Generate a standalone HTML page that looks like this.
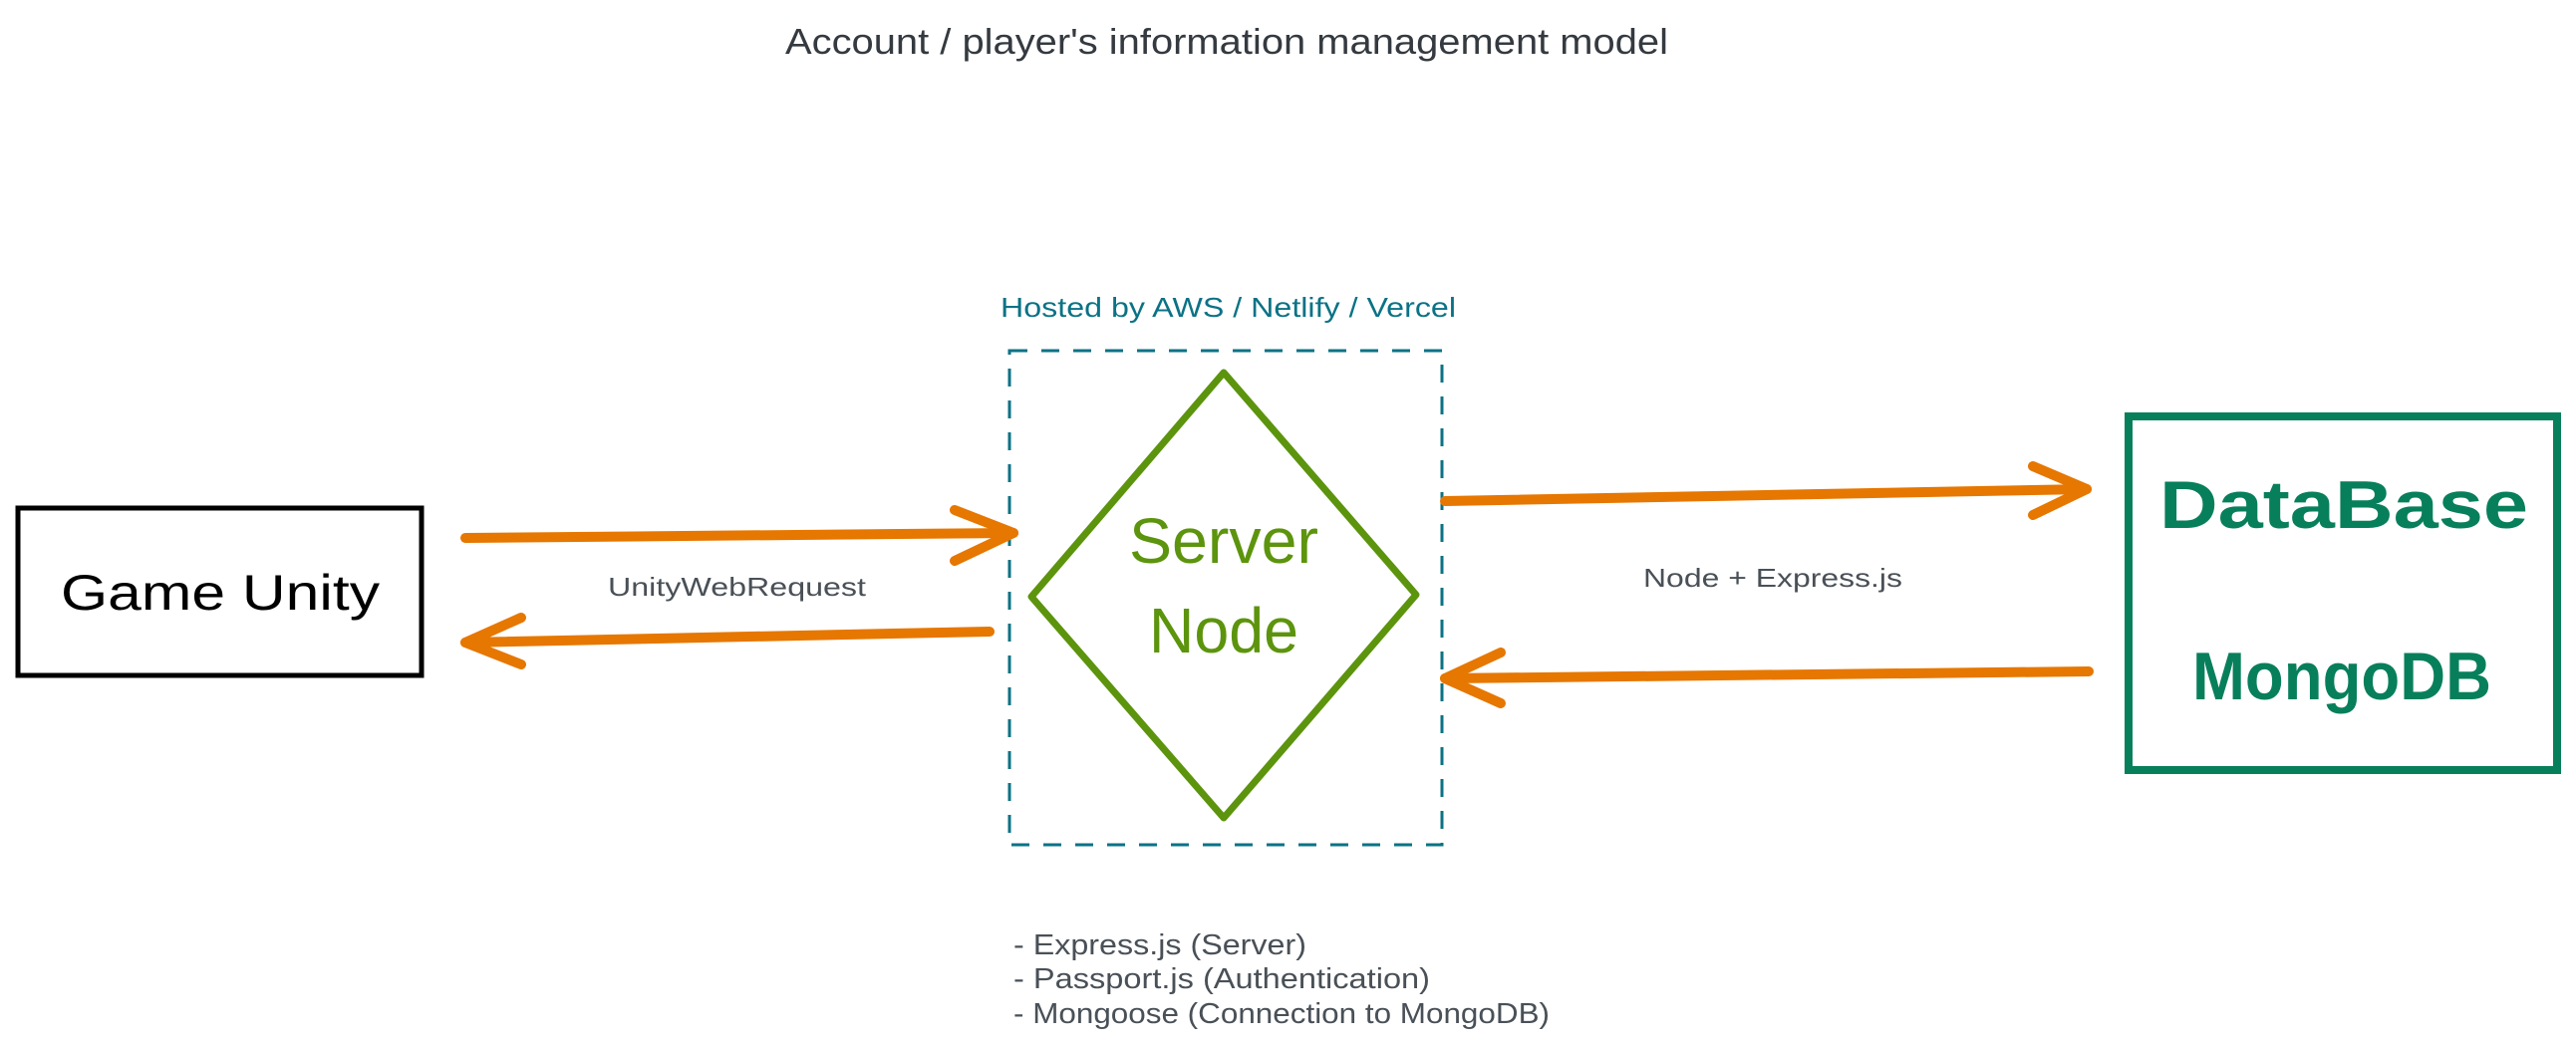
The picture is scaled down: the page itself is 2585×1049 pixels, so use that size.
<!DOCTYPE html>
<html><head><meta charset="utf-8"><style>
html,body{margin:0;padding:0;background:#fff;}
svg{display:block;}
text{font-family:"Liberation Sans",sans-serif;}
</style></head><body>
<svg width="2585" height="1049" viewBox="0 0 2585 1049" xmlns="http://www.w3.org/2000/svg">
<rect width="2585" height="1049" fill="#fff"/>
<text x="788" y="54" font-size="36" fill="#343a40" textLength="886" lengthAdjust="spacingAndGlyphs">Account / player's information management model</text>

<!-- Game Unity box -->
<rect x="18" y="510" width="405" height="168" fill="none" stroke="#000" stroke-width="5"/>
<text x="221" y="612" font-size="50" text-anchor="middle" fill="#000" textLength="320" lengthAdjust="spacingAndGlyphs">Game Unity</text>

<!-- dashed hosting box -->
<text x="1004" y="318" font-size="28" fill="#0b7285" textLength="457" lengthAdjust="spacingAndGlyphs">Hosted by AWS / Netlify / Vercel</text>
<rect x="1013" y="352" width="434" height="496" fill="none" stroke="#0b7285" stroke-width="3" stroke-dasharray="18,14"/>

<!-- diamond -->
<polygon points="1228,374 1421,597 1228,821 1035,599" fill="none" stroke="#5c940d" stroke-width="7" stroke-linejoin="round"/>
<text x="1228" y="565" font-size="64" text-anchor="middle" fill="#5c940d" textLength="190" lengthAdjust="spacingAndGlyphs">Server</text>
<text x="1228" y="655" font-size="64" text-anchor="middle" fill="#5c940d" textLength="150" lengthAdjust="spacingAndGlyphs">Node</text>

<!-- DB box -->
<rect x="2136" y="418" width="430" height="355" fill="none" stroke="#087f5b" stroke-width="8"/>
<text x="2352" y="530" font-size="68" font-weight="bold" text-anchor="middle" fill="#087f5b" textLength="370" lengthAdjust="spacingAndGlyphs">DataBase</text>
<text x="2350" y="702" font-size="68" font-weight="bold" text-anchor="middle" fill="#087f5b" textLength="300" lengthAdjust="spacingAndGlyphs">MongoDB</text>

<!-- arrows -->
<g stroke="#e67700" stroke-width="10" stroke-linecap="round" stroke-linejoin="round" fill="none">
<line x1="467" y1="540" x2="1017" y2="535"/>
<polyline points="958,512 1017,535 958,563"/>
<line x1="993" y1="634" x2="467" y2="645"/>
<polyline points="523,620 467,645 523,667"/>
<line x1="1450" y1="503" x2="2094" y2="491"/>
<polyline points="2040,468 2094,491 2040,517"/>
<line x1="2096" y1="674" x2="1450" y2="681"/>
<polyline points="1506,655 1450,681 1506,706"/>
</g>

<text x="610" y="598" font-size="26" fill="#495057" textLength="259" lengthAdjust="spacingAndGlyphs">UnityWebRequest</text>
<text x="1649" y="589" font-size="26" fill="#495057" textLength="260" lengthAdjust="spacingAndGlyphs">Node + Express.js</text>

<g font-size="29" fill="#495057">
<text x="1017" y="958" textLength="294" lengthAdjust="spacingAndGlyphs">- Express.js (Server)</text>
<text x="1017" y="992" textLength="418" lengthAdjust="spacingAndGlyphs">- Passport.js (Authentication)</text>
<text x="1017" y="1027" textLength="538" lengthAdjust="spacingAndGlyphs">- Mongoose (Connection to MongoDB)</text>
</g>
</svg>
</body></html>
